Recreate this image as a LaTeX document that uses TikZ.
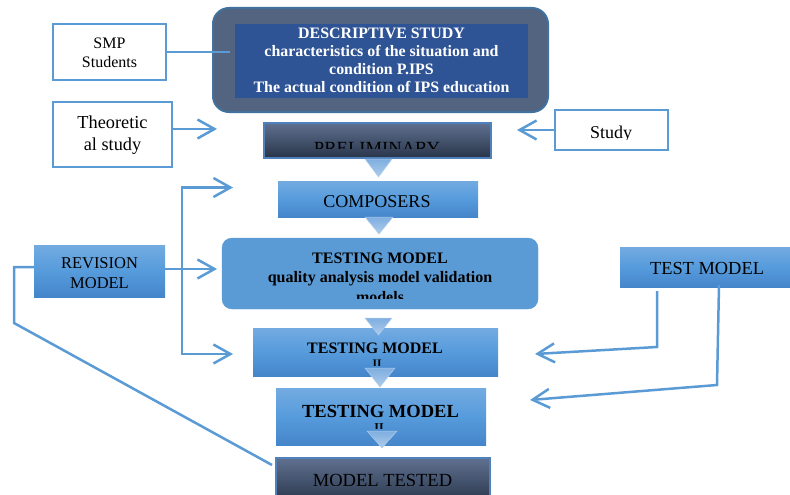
\documentclass[tikz,border=0pt]{standalone}
\usepackage{fontspec}
\setmainfont{Liberation Serif}
\usetikzlibrary{arrows.meta}
\definecolor{lb}{HTML}{5B9BD5}
\definecolor{bt}{HTML}{73ABE1}
\definecolor{bm}{HTML}{569BDC}
\definecolor{bb}{HTML}{4585CA}
\definecolor{dt}{HTML}{5F7190}
\definecolor{db}{HTML}{283449}
\definecolor{dborder}{HTML}{4F81BD}
\definecolor{outerfill}{HTML}{536480}
\definecolor{outerdraw}{HTML}{41719C}
\definecolor{innerfill}{HTML}{2F5496}
\definecolor{trit}{HTML}{7EAEE0}
\definecolor{trib}{HTML}{AFCDEC}
\tikzset{
  wbox/.style={draw=lb, line width=2.5pt, fill=white, inner sep=0pt},
  bbox/.style={top color=bt, bottom color=bb, middle color=bm, inner sep=0pt},
  dbox/.style={draw=dborder, line width=1.5pt, top color=dt, bottom color=db, inner sep=0pt},
  txt/.style={inner sep=0pt, align=center, text=black},
  conn/.style={draw=lb, line width=2.5pt},
  barb/.tip={Straight Barb[length=17pt,width=19pt,line width=2.5pt]},
  arr/.style={conn, -barb},
  tri/.style={top color=trit, bottom color=trib, draw=trib, line width=0.5pt},
}
\begin{document}
\begin{tikzpicture}[x=1pt,y=-1pt]
\useasboundingbox (0,0) rectangle (790,495);

% ---- top descriptive study
\node[draw=outerdraw, line width=2pt, fill=outerfill, rounded corners=16pt,
      minimum width=335pt, minimum height=104pt] (descout) at (380.5,60) {};
\node[fill=innerfill, minimum width=293pt, minimum height=74pt, inner sep=0pt] (descin) at (381.5,61) {};
\node[txt, anchor=north, text=white, font=\bfseries\fontsize{15.9}{18}\selectfont] (desctxt) at (381.5,27.5)
  {DESCRIPTIVE STUDY\\characteristics of the situation and\\condition P.IPS\\The actual condition of IPS education};

% ---- side white boxes
\node[wbox, minimum width=113pt, minimum height=56pt] (smp) at (109.5,52) {};
\node[txt, font=\fontsize{16}{19}\selectfont] (smptxt) at (109.5,53) {SMP\\Students};

\node[wbox, minimum width=119pt, minimum height=65pt] (theo) at (112.5,134.5) {};
\node[txt, font=\fontsize{18.3}{22.5}\selectfont] (theotxt) at (112.5,135) {Theoretic\\al study};

\node[wbox, minimum width=113pt, minimum height=40pt] (study) at (611.5,130) {};
\begin{scope}
  \clip (556,111) rectangle (667,139.5);
  \node[txt, anchor=base, font=\fontsize{18}{20}\selectfont] (studytxt) at (611,138) {Study};
\end{scope}

% ---- main column
\node[dbox, minimum width=227pt, minimum height=35pt] (prelim) at (377.5,140.5) {};
\begin{scope}
  \clip (265,124) rectangle (490,148);
  \node[txt, anchor=base, font=\fontsize{18.6}{20}\selectfont] (prelimtxt) at (377,154) {PRELIMINARY};
\end{scope}

\node[bbox, minimum width=200pt, minimum height=36pt] (comp) at (378,199) {};
\node[txt, anchor=base, font=\fontsize{18}{20}\selectfont] (comptxt) at (377,207.5) {COMPOSERS};

\node[fill=lb, draw=lb, rounded corners=10pt, minimum width=316pt, minimum height=71pt] (testing) at (380,273.5) {};
\begin{scope}
  \clip (223,239) rectangle (537,298);
  \node[txt, anchor=north, font=\bfseries\fontsize{16}{19.5}\selectfont] (testingtxt) at (380,252.5)
    {TESTING MODEL\\quality analysis model validation\\models};
\end{scope}

\node[bbox, minimum width=245pt, minimum height=48pt] (tm1) at (375.5,352) {};
\node[txt, anchor=base, font=\bfseries\fontsize{16}{18}\selectfont] (tm1txt) at (375,353) {TESTING MODEL};
\begin{scope}
  \clip (300,355) rectangle (450,365.5);
  \node[txt, anchor=base, font=\bfseries\fontsize{11.5}{12}\selectfont] (tm1ii) at (377,367) {II};
\end{scope}

\node[bbox, minimum width=210pt, minimum height=57.5pt] (tm2) at (381,417) {};
\node[txt, anchor=base, font=\bfseries\fontsize{18.5}{20}\selectfont] (tm2txt) at (380.5,417) {TESTING MODEL};
\begin{scope}
  \clip (300,420) rectangle (460,428.5);
  \node[txt, anchor=base, font=\bfseries\fontsize{12}{12}\selectfont] (tm2ii) at (379,431) {II};
\end{scope}

\node[dbox, minimum width=214pt, minimum height=46pt] (mtested) at (383,481) {};
\begin{scope}
  \clip (277,459) rectangle (489,485);
  \node[txt, anchor=base, font=\fontsize{18.5}{20}\selectfont] (mtestedtxt) at (382.5,486.5) {MODEL TESTED};
\end{scope}

% ---- revision and test model
\node[bbox, minimum width=131pt, minimum height=52pt] (rev) at (99.5,271) {};
\begin{scope}
  \clip (35,246) rectangle (164,287.5);
  \node[txt, anchor=north, font=\fontsize{16.5}{19.5}\selectfont] (revtxt) at (99.5,257.5) {REVISION\\MODEL};
\end{scope}

\node[bbox, minimum width=170pt, minimum height=40pt] (testmodel) at (705,267) {};
\node[txt, anchor=base, font=\fontsize{18.4}{20}\selectfont] (testmodeltxt) at (707,274.5) {TEST MODEL};

% ---- triangles between steps
\path[tri] (365,159) -- (392,159) -- (378.5,177) -- cycle;
\path[tri] (365,217) -- (393,217) -- (379,234) -- cycle;
\path[tri] (365,318) -- (392,318) -- (378.5,335) -- cycle;
\path[tri] (365,368) -- (395,368) -- (380,387) -- cycle;
\path[tri] (367,431) -- (397,431) -- (382,448) -- cycle;

% ---- free ends of connectors
\coordinate (theoend) at (217,129);
\coordinate (studyend) at (517,130);
\coordinate (revend) at (217,269);
\coordinate (fbtop) at (233,187.5);
\coordinate (fbcornertop) at (182,187.5);
\coordinate (fbcornerbot) at (182,354);
\coordinate (fbbot) at (233,354);
\coordinate (revl1) at (14,267);
\coordinate (revl2) at (14,323);
\coordinate (mtend) at (272,465);
\coordinate (t1a) at (657,291);
\coordinate (t1b) at (657,347);
\coordinate (t1end) at (535,354);
\coordinate (t2a) at (719,285);
\coordinate (t2b) at (717,385);
\coordinate (t2end) at (530,400);

% ---- connectors
\draw[conn] (smp.east) -- ([xshift=-5pt]smp.east -| descin.west);
\draw[arr] (theo.east |- theoend) -- (theoend);
\draw[arr] (study.west |- studyend) -- (studyend);
\draw[arr] (rev.east |- revend) -- (revend);
\draw[conn, barb-barb] (fbtop) -- (fbcornertop) -- (fbcornerbot) -- (fbbot);
\draw[conn] (rev.west |- revl1) -- (revl1) -- (revl2) -- (mtend);
\draw[arr] (t1a) -- (t1b) -- (t1end);
\draw[arr] (t2a) -- (t2b) -- (t2end);
\end{tikzpicture}
\end{document}
